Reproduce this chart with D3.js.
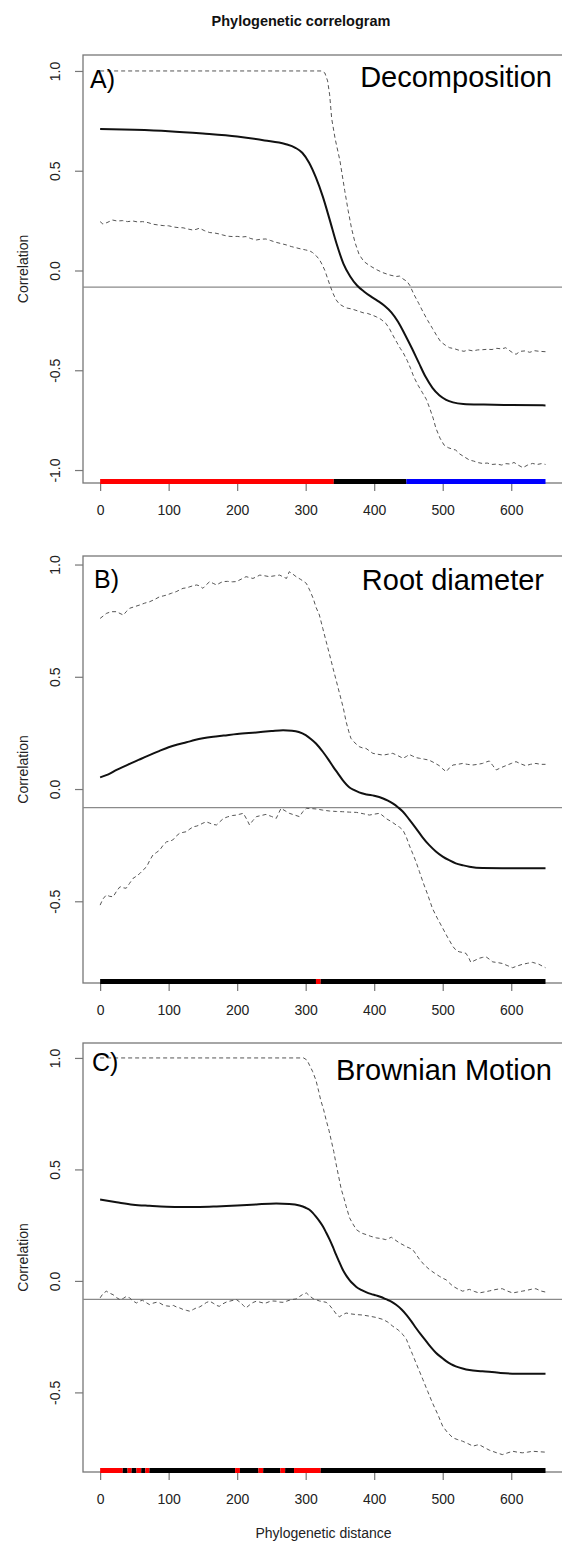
<!DOCTYPE html>
<html>
<head>
<meta charset="utf-8">
<script src="https://cdn.jsdelivr.net/npm/d3@7.9.0/dist/d3.min.js"></script>
<style>
  body { margin: 0; background: #fff; }
  svg { display: block; font-family: 'Liberation Sans', Arial, sans-serif; }
</style>
</head>
<body>
<svg id="chart" width="562" height="1542"></svg>
<script>
// values: [phylogenetic distance, correlation]
const distanceTicks = [0, 100, 200, 300, 400, 500, 600];
const corrTicksA = [-1, -0.5, 0, 0.5, 1];
const corrTicksBC = [-0.5, 0, 0.5, 1];
const panelLetters = ['A)', 'B)', 'C)'];
const traitNames = ['Decomposition', 'Root diameter', 'Brownian Motion'];
const nullMean = -0.083;

const decompObs = [[0,0.709],[50,0.705],[100,0.698],[150,0.686],[200,0.671],[240,0.652],[270,0.634],[285,0.615],[295,0.59],[305,0.54],[315,0.465],[325,0.37],[335,0.255],[345,0.135],[355,0.035],[365,-0.03],[375,-0.075],[385,-0.105],[395,-0.13],[405,-0.152],[415,-0.177],[425,-0.21],[435,-0.258],[445,-0.322],[455,-0.39],[465,-0.462],[475,-0.533],[485,-0.588],[495,-0.625],[505,-0.648],[515,-0.661],[530,-0.669],[560,-0.672],[600,-0.674],[650,-0.676]];
const decompUpper = [[0,1],[323,1],[328,0.99],[332,0.95],[335,0.88],[338,0.76],[343,0.66],[350,0.55],[357,0.40],[362,0.30],[367,0.21],[372,0.14],[378,0.08],[385,0.045],[393,0.025],[403,0.005],[412,-0.01],[422,-0.022],[432,-0.03],[437,-0.028],[442,-0.042],[448,-0.055],[452,-0.075],[458,-0.12],[465,-0.165],[471,-0.206],[478,-0.25],[485,-0.29],[491,-0.325],[497,-0.357],[504,-0.375],[510,-0.387],[517,-0.392],[524,-0.40],[531,-0.405],[537,-0.398],[544,-0.403],[551,-0.398],[558,-0.397],[565,-0.395],[572,-0.396],[579,-0.39],[586,-0.393],[592,-0.387],[597,-0.40],[602,-0.412],[607,-0.42],[613,-0.405],[620,-0.403],[627,-0.41],[634,-0.402],[641,-0.405],[650,-0.407]];
const decompLower = [[0,0.245],[4,0.233],[10,0.24],[18,0.253],[25,0.248],[33,0.25],[40,0.245],[48,0.248],[55,0.243],[62,0.245],[70,0.24],[77,0.232],[85,0.228],[92,0.225],[100,0.224],[107,0.218],[114,0.215],[121,0.214],[128,0.208],[135,0.203],[140,0.206],[145,0.212],[152,0.2],[160,0.19],[167,0.188],[174,0.183],[179,0.178],[186,0.172],[193,0.17],[200,0.171],[207,0.168],[213,0.17],[220,0.16],[228,0.153],[235,0.157],[242,0.158],[249,0.15],[257,0.141],[264,0.135],[272,0.128],[279,0.12],[286,0.114],[293,0.108],[300,0.103],[306,0.098],[310,0.09],[315,0.075],[320,0.055],[324,0.03],[328,0.0],[332,-0.04],[336,-0.08],[340,-0.115],[344,-0.145],[349,-0.168],[355,-0.18],[360,-0.188],[366,-0.192],[372,-0.198],[378,-0.205],[384,-0.212],[390,-0.215],[396,-0.222],[403,-0.232],[410,-0.245],[417,-0.265],[422,-0.29],[427,-0.323],[433,-0.36],[438,-0.39],[442,-0.41],[448,-0.45],[453,-0.49],[458,-0.535],[464,-0.575],[470,-0.61],[476,-0.645],[481,-0.69],[486,-0.74],[490,-0.79],[496,-0.84],[502,-0.875],[508,-0.888],[514,-0.895],[519,-0.9],[525,-0.92],[532,-0.935],[539,-0.95],[545,-0.955],[552,-0.963],[558,-0.967],[565,-0.965],[572,-0.972],[579,-0.97],[586,-0.975],[592,-0.968],[599,-0.97],[604,-0.962],[610,-0.975],[617,-0.988],[624,-0.975],[631,-0.967],[638,-0.972],[644,-0.968],[650,-0.972]];
const decompBars = [[0,341,'pos'],[341,447,'ns'],[447,650,'neg']];

const rootObs = [[0,0.052],[12,0.065],[24,0.085],[36,0.102],[48,0.119],[60,0.135],[72,0.151],[86,0.169],[100,0.186],[113,0.198],[126,0.208],[138,0.218],[150,0.226],[165,0.233],[180,0.238],[200,0.245],[228,0.252],[250,0.258],[267,0.262],[280,0.26],[290,0.254],[300,0.24],[308,0.222],[315,0.203],[325,0.166],[333,0.132],[340,0.1],[347,0.07],[354,0.04],[364,0.007],[371,-0.005],[378,-0.015],[389,-0.024],[400,-0.03],[413,-0.042],[420,-0.052],[427,-0.064],[435,-0.082],[442,-0.101],[451,-0.135],[461,-0.175],[470,-0.213],[480,-0.249],[490,-0.278],[500,-0.301],[510,-0.318],[519,-0.331],[530,-0.34],[539,-0.346],[558,-0.352],[600,-0.353],[650,-0.353]];
const rootUpper = [[0,0.76],[5,0.772],[9,0.782],[16,0.79],[24,0.79],[29,0.782],[34,0.775],[38,0.79],[43,0.805],[50,0.812],[58,0.82],[65,0.828],[72,0.834],[80,0.845],[87,0.857],[92,0.86],[97,0.864],[104,0.872],[111,0.879],[116,0.887],[121,0.894],[126,0.896],[131,0.901],[136,0.906],[141,0.909],[145,0.905],[150,0.894],[155,0.91],[160,0.924],[165,0.916],[170,0.909],[175,0.918],[179,0.924],[186,0.925],[193,0.923],[199,0.924],[206,0.935],[213,0.946],[218,0.942],[223,0.938],[228,0.945],[233,0.953],[240,0.95],[247,0.946],[255,0.95],[262,0.953],[267,0.945],[272,0.938],[276,0.968],[281,0.958],[286,0.946],[292,0.935],[297,0.925],[301,0.916],[306,0.885],[311,0.849],[315,0.81],[320,0.775],[325,0.715],[330,0.656],[335,0.597],[340,0.537],[345,0.478],[350,0.419],[355,0.36],[359,0.3],[363,0.255],[366,0.226],[372,0.205],[378,0.189],[383,0.183],[388,0.181],[393,0.17],[398,0.159],[405,0.155],[413,0.151],[420,0.155],[427,0.159],[435,0.148],[442,0.137],[447,0.145],[451,0.154],[456,0.147],[461,0.14],[466,0.137],[473,0.133],[480,0.129],[487,0.118],[495,0.104],[500,0.09],[505,0.077],[510,0.095],[515,0.107],[522,0.11],[529,0.114],[536,0.11],[544,0.107],[551,0.11],[558,0.114],[563,0.12],[568,0.125],[573,0.105],[578,0.085],[585,0.095],[592,0.104],[600,0.114],[607,0.122],[614,0.112],[621,0.104],[628,0.11],[636,0.114],[643,0.11],[650,0.11]];
const rootLower = [[0,-0.517],[4,-0.49],[9,-0.472],[14,-0.478],[19,-0.48],[24,-0.455],[29,-0.435],[34,-0.44],[38,-0.442],[43,-0.42],[48,-0.398],[53,-0.388],[58,-0.376],[63,-0.36],[68,-0.346],[72,-0.32],[77,-0.294],[82,-0.283],[87,-0.272],[92,-0.25],[97,-0.235],[102,-0.232],[106,-0.227],[111,-0.21],[116,-0.197],[121,-0.193],[126,-0.19],[131,-0.178],[136,-0.168],[141,-0.165],[145,-0.16],[150,-0.152],[155,-0.146],[160,-0.152],[165,-0.158],[170,-0.16],[175,-0.145],[180,-0.131],[186,-0.124],[193,-0.118],[199,-0.116],[204,-0.112],[209,-0.108],[214,-0.135],[218,-0.16],[223,-0.14],[228,-0.123],[235,-0.118],[242,-0.113],[250,-0.122],[257,-0.131],[261,-0.105],[264,-0.086],[270,-0.097],[276,-0.108],[283,-0.115],[291,-0.123],[296,-0.1],[301,-0.086],[308,-0.087],[316,-0.089],[325,-0.094],[335,-0.098],[345,-0.1],[354,-0.101],[364,-0.103],[374,-0.104],[384,-0.11],[393,-0.116],[400,-0.112],[408,-0.108],[413,-0.12],[417,-0.131],[425,-0.145],[432,-0.16],[437,-0.17],[442,-0.183],[447,-0.215],[451,-0.249],[456,-0.286],[461,-0.324],[466,-0.368],[471,-0.413],[478,-0.47],[485,-0.532],[492,-0.575],[500,-0.62],[507,-0.66],[515,-0.702],[520,-0.72],[524,-0.725],[529,-0.728],[534,-0.732],[538,-0.752],[541,-0.772],[547,-0.763],[553,-0.754],[558,-0.75],[563,-0.747],[568,-0.758],[573,-0.77],[580,-0.773],[587,-0.777],[594,-0.786],[602,-0.796],[609,-0.788],[616,-0.781],[624,-0.776],[631,-0.772],[640,-0.78],[650,-0.796]];
const rootBars = [[0,315,'ns'],[315,322,'pos'],[322,650,'ns']];

const brownObs = [[0,0.365],[24,0.353],[48,0.342],[72,0.337],[97,0.333],[121,0.332],[145,0.332],[170,0.334],[200,0.338],[228,0.343],[257,0.347],[276,0.345],[291,0.338],[300,0.328],[305,0.32],[310,0.306],[315,0.288],[320,0.268],[325,0.245],[330,0.216],[335,0.185],[340,0.15],[344,0.12],[349,0.085],[354,0.051],[359,0.025],[364,0.004],[369,-0.013],[374,-0.027],[381,-0.04],[388,-0.05],[395,-0.058],[403,-0.065],[410,-0.072],[417,-0.082],[425,-0.093],[432,-0.107],[440,-0.128],[447,-0.152],[454,-0.18],[461,-0.211],[468,-0.24],[476,-0.271],[483,-0.298],[490,-0.322],[498,-0.343],[505,-0.36],[512,-0.373],[519,-0.383],[529,-0.393],[539,-0.4],[558,-0.405],[582,-0.412],[607,-0.416],[650,-0.416]];
const brownUpper = [[0,1],[297,1],[302,0.99],[306,0.965],[310,0.94],[315,0.9],[319,0.85],[322,0.81],[326,0.77],[330,0.72],[334,0.675],[337,0.634],[341,0.58],[344,0.53],[348,0.47],[352,0.41],[356,0.37],[359,0.335],[364,0.283],[369,0.255],[374,0.23],[381,0.215],[388,0.208],[395,0.2],[403,0.193],[410,0.19],[417,0.185],[421,0.19],[425,0.196],[430,0.185],[437,0.17],[442,0.162],[447,0.153],[451,0.148],[456,0.141],[461,0.12],[466,0.097],[473,0.072],[481,0.05],[488,0.035],[495,0.021],[500,0.012],[505,0.005],[510,-0.01],[515,-0.024],[522,-0.036],[529,-0.046],[534,-0.042],[539,-0.038],[546,-0.047],[553,-0.054],[560,-0.05],[568,-0.045],[575,-0.04],[582,-0.036],[587,-0.035],[594,-0.045],[602,-0.054],[609,-0.05],[616,-0.046],[623,-0.042],[630,-0.037],[636,-0.035],[643,-0.045],[650,-0.05]];
const brownLower = [[0,-0.076],[4,-0.058],[9,-0.046],[14,-0.055],[19,-0.062],[24,-0.075],[29,-0.084],[34,-0.078],[38,-0.07],[43,-0.076],[48,-0.09],[53,-0.099],[58,-0.09],[62,-0.087],[67,-0.097],[72,-0.106],[77,-0.1],[82,-0.096],[87,-0.099],[92,-0.108],[97,-0.112],[102,-0.114],[107,-0.11],[112,-0.118],[116,-0.121],[121,-0.128],[126,-0.132],[131,-0.136],[136,-0.128],[141,-0.12],[145,-0.117],[150,-0.108],[155,-0.097],[160,-0.091],[165,-0.1],[170,-0.11],[174,-0.114],[179,-0.103],[184,-0.095],[189,-0.091],[194,-0.087],[199,-0.084],[204,-0.095],[209,-0.11],[213,-0.121],[218,-0.108],[223,-0.097],[228,-0.091],[233,-0.095],[238,-0.099],[242,-0.099],[247,-0.093],[252,-0.09],[257,-0.091],[262,-0.095],[267,-0.096],[271,-0.092],[276,-0.087],[281,-0.083],[286,-0.081],[291,-0.07],[296,-0.06],[301,-0.054],[306,-0.068],[311,-0.08],[315,-0.084],[320,-0.09],[325,-0.093],[330,-0.096],[335,-0.11],[340,-0.129],[345,-0.15],[349,-0.161],[354,-0.152],[359,-0.144],[366,-0.148],[374,-0.151],[383,-0.153],[393,-0.158],[403,-0.164],[413,-0.173],[420,-0.185],[427,-0.203],[435,-0.22],[442,-0.241],[447,-0.262],[451,-0.293],[456,-0.33],[461,-0.368],[466,-0.405],[471,-0.442],[478,-0.495],[485,-0.547],[493,-0.6],[500,-0.652],[507,-0.68],[515,-0.704],[522,-0.712],[529,-0.719],[537,-0.73],[544,-0.741],[549,-0.737],[553,-0.734],[560,-0.746],[568,-0.759],[578,-0.77],[587,-0.779],[594,-0.772],[602,-0.764],[609,-0.768],[616,-0.771],[624,-0.768],[631,-0.764],[640,-0.766],[650,-0.768]];
const brownBars = [[0,33,'pos'],[33,40,'ns'],[40,46,'pos'],[46,53,'ns'],[53,60,'pos'],[60,66,'ns'],[66,72,'pos'],[72,197,'ns'],[197,204,'pos'],[204,231,'ns'],[231,238,'pos'],[238,263,'ns'],[263,270,'pos'],[270,283,'ns'],[283,322,'pos'],[322,650,'ns']];

// layout in pixels
const plotLeft = 83, plotRight = 564;
const layout = [
  { top: 55,   bottom: 483,  yLim: [-1.065, 1.08],  labelX: 90, labelY: 88,   nameX: 552, nameY: 87 },
  { top: 556,  bottom: 983,  yLim: [-0.864, 1.038], labelX: 94, labelY: 588,  nameX: 544, nameY: 590 },
  { top: 1043, bottom: 1472, yLim: [-0.857, 1.067], labelX: 92, labelY: 1071, nameX: 552, nameY: 1080 }
];

const panels = [
  { obs: decompObs, upper: decompUpper, lower: decompLower, bars: decompBars, ticks: corrTicksA },
  { obs: rootObs,   upper: rootUpper,   lower: rootLower,   bars: rootBars,   ticks: corrTicksBC },
  { obs: brownObs,  upper: brownUpper,  lower: brownLower,  bars: brownBars,  ticks: corrTicksBC }
];

const sigColor = d3.scaleOrdinal().domain(['pos', 'ns', 'neg']).range(['#ff0000', '#000000', '#0000ff']);
const axisGrey = '#777';

const svg = d3.select('#chart');
svg.append('rect').attr('width', 562).attr('height', 1542).attr('fill', '#fff');

const x = d3.scaleLinear().domain([-25, 677]).range([plotLeft, plotRight]);

svg.append('text')
  .attr('x', 301).attr('y', 26)
  .attr('text-anchor', 'middle')
  .attr('font-weight', 'bold')
  .attr('font-size', 14.5)
  .attr('fill', '#111')
  .text('Phylogenetic correlogram');

panels.forEach((p, i) => {
  const L = layout[i];
  const y = d3.scaleLinear().domain(L.yLim).range([L.bottom, L.top]);
  const g = svg.append('g');

  // y axis
  const yAxis = g.append('g')
    .attr('transform', `translate(${plotLeft},0)`)
    .call(d3.axisLeft(y).tickValues(p.ticks).tickSize(8).tickFormat(d => d.toFixed(1)));
  yAxis.select('.domain').remove();
  yAxis.selectAll('line').attr('stroke', axisGrey).attr('stroke-width', 1.2);
  yAxis.selectAll('text')
    .attr('x', null).attr('dy', null)
    .attr('transform', 'translate(-28,0) rotate(-90)')
    .attr('text-anchor', 'middle')
    .attr('dominant-baseline', 'central')
    .attr('font-size', 14)
    .attr('fill', '#222');
  yAxis.attr('font-family', null).attr('font-size', null);

  // x axis
  const xAxis = g.append('g')
    .attr('transform', `translate(0,${L.bottom})`)
    .call(d3.axisBottom(x).tickValues(distanceTicks).tickSize(8).tickFormat(d3.format('d')));
  xAxis.select('.domain').remove();
  xAxis.selectAll('line').attr('stroke', axisGrey).attr('stroke-width', 1.2);
  xAxis.selectAll('text')
    .attr('y', 22).attr('dy', '0.71em')
    .attr('font-size', 14)
    .attr('fill', '#222');
  xAxis.attr('font-family', null).attr('font-size', null);

  // frame
  g.append('rect')
    .attr('x', plotLeft).attr('y', L.top)
    .attr('width', plotRight - plotLeft).attr('height', L.bottom - L.top)
    .attr('fill', 'none').attr('stroke', axisGrey).attr('stroke-width', 1.3);

  // y title
  g.append('text')
    .attr('transform', `translate(23,${(L.top + L.bottom) / 2}) rotate(-90)`)
    .attr('text-anchor', 'middle')
    .attr('dominant-baseline', 'central')
    .attr('font-size', 14)
    .attr('fill', '#222')
    .text('Correlation');

  // null expectation line
  g.append('line')
    .attr('x1', plotLeft).attr('x2', plotRight)
    .attr('y1', y(nullMean)).attr('y2', y(nullMean))
    .attr('stroke', '#8a8a8a').attr('stroke-width', 1.2);

  const line = d3.line().x(d => x(d[0])).y(d => y(d[1]));
  const smooth = d3.line().x(d => x(d[0])).y(d => y(d[1])).curve(d3.curveMonotoneX);

  [p.upper, p.lower].forEach(ci => {
    g.append('path')
      .attr('d', line(ci))
      .attr('fill', 'none')
      .attr('stroke', '#555')
      .attr('stroke-width', 1)
      .attr('stroke-dasharray', '4,3');
  });

  g.append('path')
    .attr('d', smooth(p.obs))
    .attr('fill', 'none')
    .attr('stroke', '#111')
    .attr('stroke-width', 2);

  // significance bar
  g.selectAll('.sig')
    .data(p.bars)
    .join('line')
    .attr('x1', d => x(d[0])).attr('x2', d => x(d[1]))
    .attr('y1', L.bottom - 1.5).attr('y2', L.bottom - 1.5)
    .attr('stroke', d => sigColor(d[2]))
    .attr('stroke-width', 5);

  g.append('text')
    .attr('x', L.labelX).attr('y', L.labelY)
    .attr('font-size', 25)
    .attr('fill', '#000')
    .text(panelLetters[i]);

  g.append('text')
    .attr('x', L.nameX).attr('y', L.nameY)
    .attr('text-anchor', 'end')
    .attr('font-size', 29)
    .attr('fill', '#000')
    .text(traitNames[i]);
});

svg.append('text')
  .attr('x', (plotLeft + plotRight) / 2).attr('y', 1538)
  .attr('text-anchor', 'middle')
  .attr('font-size', 14)
  .attr('fill', '#222')
  .text('Phylogenetic distance');
</script>
</body>
</html>
